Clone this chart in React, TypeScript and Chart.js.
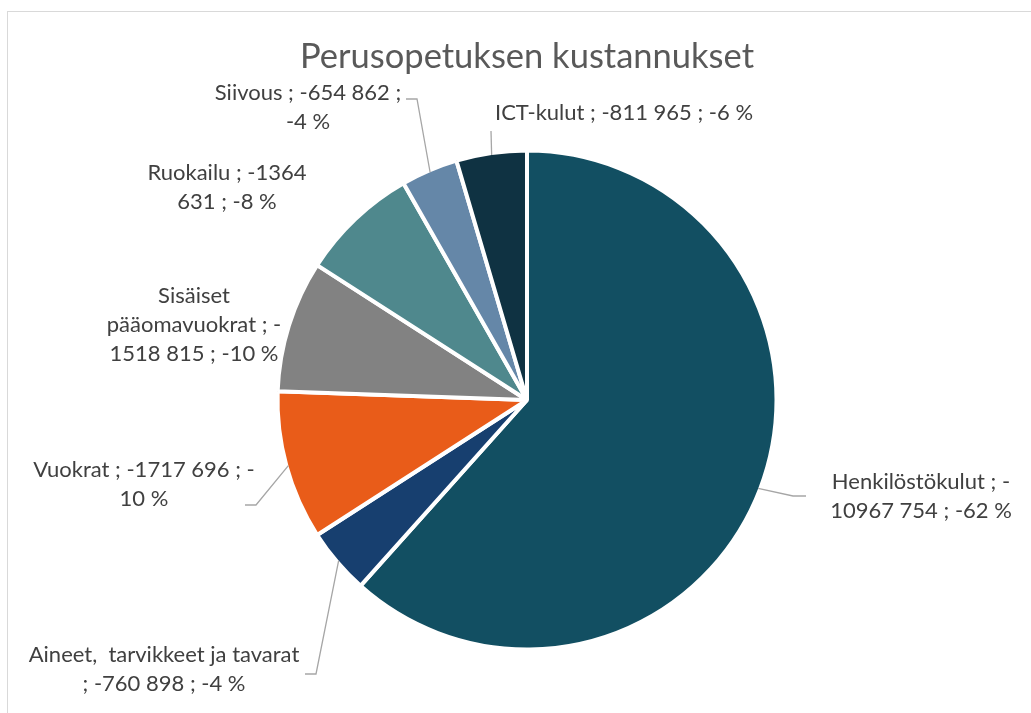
import React, { useEffect, useRef } from "react";
import { Chart, registerables } from "chart.js";

Chart.register(...registerables);

const chartTitle = "Perusopetuksen kustannukset";
const categories = [
  "Henkilöstökulut",
  "Aineet,  tarvikkeet ja tavarat",
  "Vuokrat",
  "Sisäiset pääomavuokrat",
  "Ruokailu",
  "Siivous",
  "ICT-kulut",
];
const values = [-10967754, -760898, -1717696, -1518815, -1364631, -654862, -811965];
const labelLines = [
  ["Henkilöstökulut ; -", "10967 754 ; -62 %"],
  ["Aineet,  tarvikkeet ja tavarat", "; -760 898 ; -4 %"],
  ["Vuokrat ; -1717 696 ; -", "10 %"],
  ["Sisäiset", "pääomavuokrat ; -", "1518 815 ; -10 %"],
  ["Ruokailu ; -1364", "631 ; -8 %"],
  ["Siivous ; -654 862 ;", "-4 %"],
  ["ICT-kulut ; -811 965 ; -6 %"],
];
const sliceColors = ["#124f62", "#173f6f", "#e95c19", "#828282", "#4f888d", "#6587a8", "#0f3242"];

// label layout (style): text centre offset from pie centre, leader polyline offsets
const labelLayout = [
  { dx: 394, dy: 82, leader: [[266, 96], [279, 96]] },
  { dx: -363, dy: 255, leader: [[-211, 274], [-222, 274]] },
  { dx: -383, dy: 70, leader: [[-271, 105], [-282, 105]] },
  { dx: -333, dy: -104, leader: null },
  { dx: -300, dy: -227, leader: null },
  { dx: -219, dy: -307, leader: [[-110, -301], [-121, -301]] },
  { dx: 97, dy: -287, leader: [[-36, -269]] },
];

const FONT = "Lato, 'Open Sans', sans-serif";
const TITLE_SIZE = 34.5;
const LABEL_SIZE = 22;
const LINE_H = 29;
const BORDER = 4;

const labelPlugin = {
  id: "excelLabels",
  afterDatasetsDraw(chart: any) {
    const ctx = chart.ctx as CanvasRenderingContext2D;
    const meta = chart.getDatasetMeta(0);
    const a0 = meta.data[0] as any;
    const cx = a0.x;
    const cy = a0.y;
    ctx.save();
    ctx.fillStyle = "#595959";
    ctx.font = `${TITLE_SIZE}px ${FONT}`;
    ctx.textAlign = "center";
    ctx.textBaseline = "alphabetic";
    ctx.fillText(chartTitle, cx, cy - 332);

    meta.data.forEach((arc: any, i: number) => {
      const p = arc.getProps(["startAngle", "endAngle", "outerRadius"], true);
      const lay = labelLayout[i];
      const mid = (p.startAngle + p.endAngle) / 2;
      const r = p.outerRadius - BORDER / 2;
      if (lay.leader) {
        ctx.beginPath();
        ctx.moveTo(cx + Math.cos(mid) * r, cy + Math.sin(mid) * r);
        lay.leader.forEach(([dx, dy]) => ctx.lineTo(cx + dx, cy + dy));
        ctx.strokeStyle = "#a6a6a6";
        ctx.lineWidth = 1.3;
        ctx.stroke();
      }
      ctx.fillStyle = "#404040";
      ctx.font = `${LABEL_SIZE}px ${FONT}`;
      ctx.textAlign = "center";
      ctx.textBaseline = "middle";
      labelLines[i].forEach((line, j) => {
        ctx.fillText(line, cx + lay.dx, cy + lay.dy + j * LINE_H);
      });
    });
    ctx.restore();
  },
};

export default function App() {
  const ref = useRef<HTMLCanvasElement>(null);
  useEffect(() => {
    if (!ref.current) return;
    const chart = new Chart(ref.current, {
      type: "pie",
      data: {
        labels: categories,
        datasets: [
          {
            data: values.map((v) => Math.abs(v)),
            backgroundColor: sliceColors,
            borderColor: "#ffffff",
            borderWidth: BORDER,
          },
        ],
      },
      options: {
        responsive: false,
        animation: false,
        layout: { padding: { left: 275.5, right: 252.5, top: 148.5, bottom: 61.5 } },
        plugins: {
          legend: { display: false },
          title: { display: false },
          tooltip: { enabled: false },
        },
      },
      plugins: [labelPlugin],
    });
    return () => chart.destroy();
  }, []);
  return (
    <div style={{ position: "fixed", left: 0, top: 0, width: 1031, height: 713, overflow: "hidden", background: "#fff" }}>
      <div
        style={{
          position: "absolute",
          left: 7,
          top: 11,
          width: 1100,
          height: 800,
          border: "1px solid #d9d9d9",
        }}
      />
      <canvas
        ref={ref}
        width={1031}
        height={713}
        style={{ position: "absolute", left: 0, top: 0, width: 1031, height: 713 }}
      />
    </div>
  );
}
